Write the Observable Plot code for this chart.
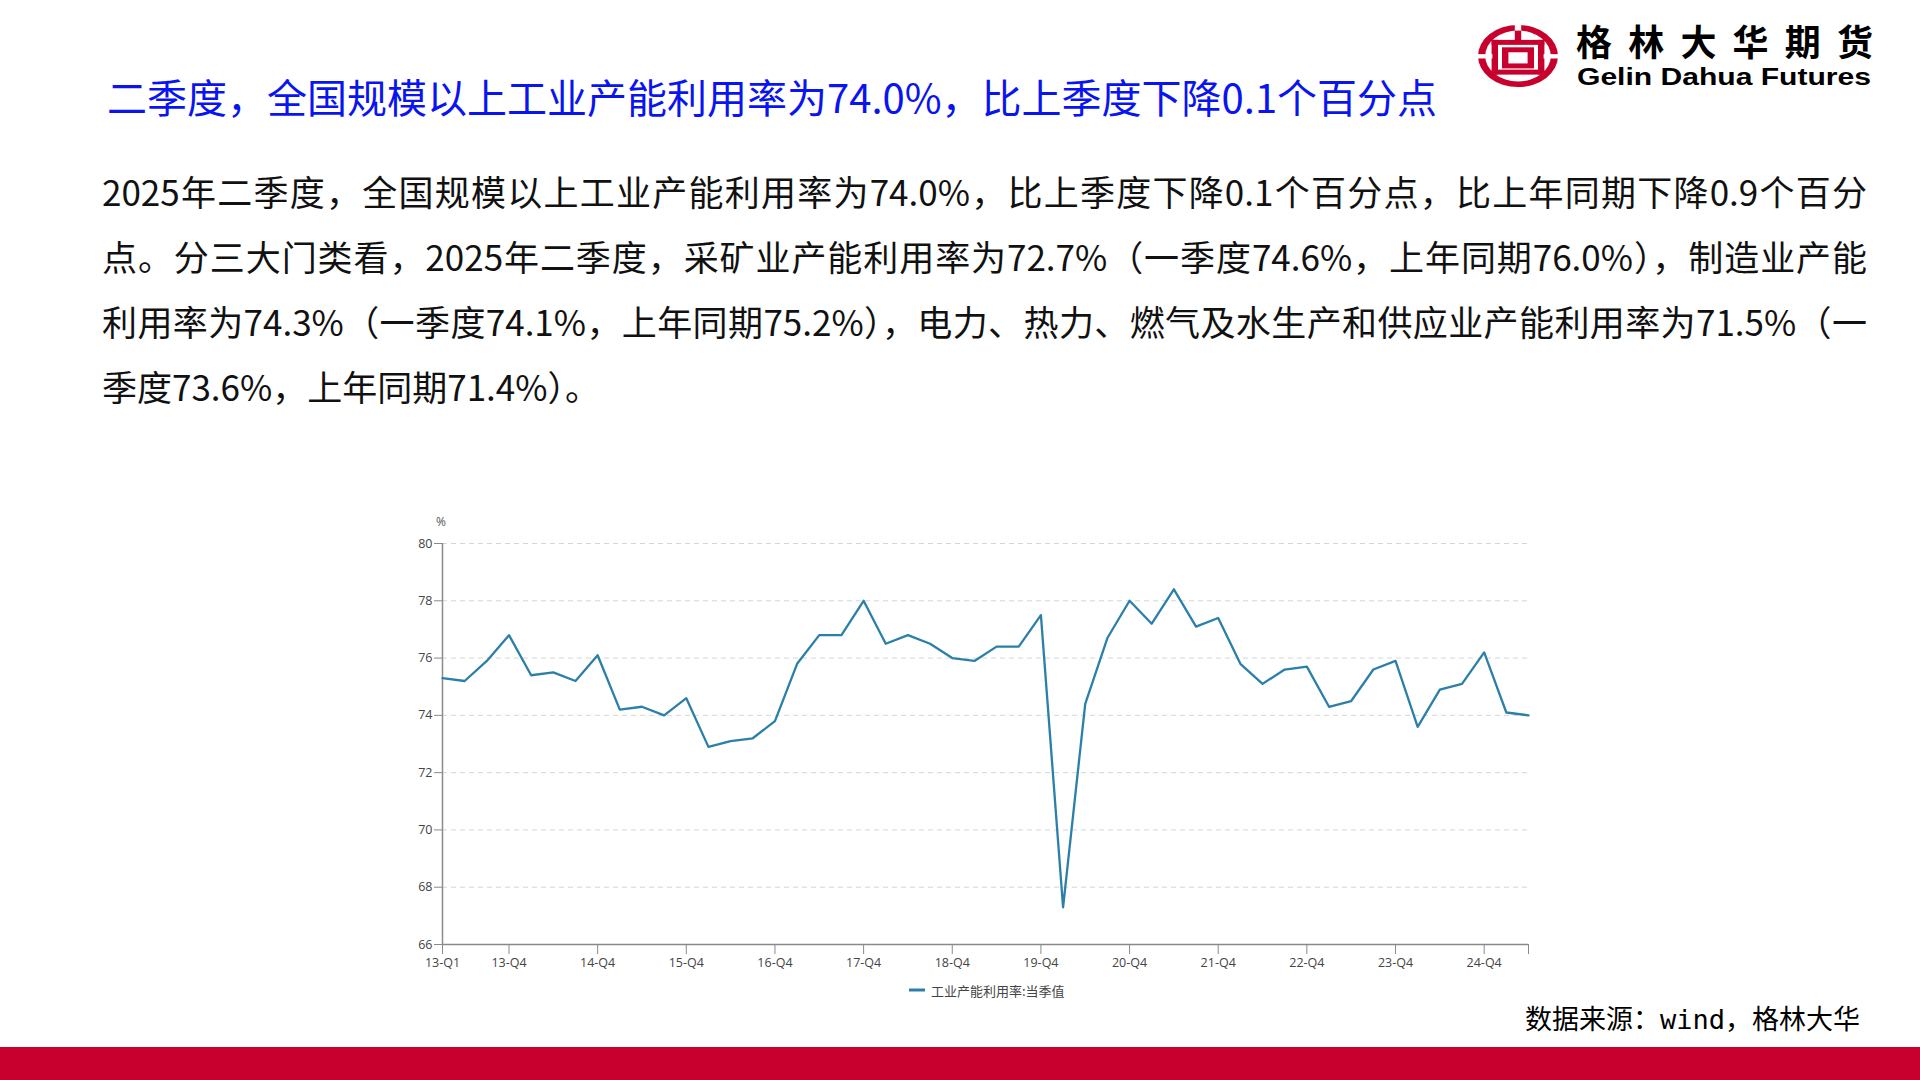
<!DOCTYPE html>
<html>
<head>
<meta charset="utf-8">
<script src="https://cdn.jsdelivr.net/npm/d3@7"></script>
<script src="https://cdn.jsdelivr.net/npm/@observablehq/plot@0.6"></script>
<style>
  html, body { margin: 0; padding: 0; background: #fff; }
  #page { position: relative; width: 1920px; height: 1080px; overflow: hidden; background: #fff; }
  .abs { position: absolute; }
  #title { left: 107px; top: 71px; height: 50px; line-height: 50px; font-size: 40px; color: #0a14f0;
           font-family: "Noto Sans CJK SC", sans-serif; white-space: nowrap; }
  #para { left: 102px; top: 158px; width: 1765px; font-size: 35px; line-height: 65px; color: #111;
          font-family: "Noto Sans CJK SC", sans-serif; }
  #para .j { text-align: justify; text-align-last: justify; }
  #para .l { text-align: left; }
  #source { left: 1525px; top: 1000px; height: 40px; line-height: 40px; font-size: 27px; color: #000;
            font-family: "DejaVu Sans Mono", "Noto Sans CJK SC", monospace; white-space: nowrap; }
  #bar { left: 0; top: 1047px; width: 1920px; height: 33px; background: #c8002d; }
  #chart { left: 380px; top: 505px; }
  #unit { left: 436px; top: 513px; font-size: 12px; color: #555; font-family: "Open Sans", sans-serif; }
  #legend { left: 904px; top: 980px; height: 20px; display: flex; align-items: center;
            font-size: 13px; color: #444; font-family: "Noto Sans CJK SC", sans-serif; white-space: nowrap; }
</style>
</head>
<body>
<div id="page">
  <svg class="abs" style="left:1478px; top:15px;" width="420" height="90" viewBox="0 0 420 90">
    <g transform="translate(40,41) scale(0.8,0.62)">
      <circle r="50" fill="#c8002d"/>
      <circle r="41" fill="#fff"/>
      <rect x="-4" y="-50" width="8" height="24" fill="#fff"/>
      <rect x="-33" y="-26" width="66" height="8" fill="#c8002d"/>
      <rect x="-4" y="-41" width="8" height="16" fill="#c8002d"/>
      <rect x="-33" y="-26" width="8" height="56" fill="#c8002d"/>
      <rect x="25" y="-26" width="8" height="56" fill="#c8002d"/>
      <rect x="-33" y="22" width="66" height="8" fill="#c8002d"/>
      <rect x="-16" y="-10" width="32" height="26" fill="none" stroke="#c8002d" stroke-width="8"/>
      <rect x="-52" y="-3" width="20" height="7" fill="#fff"/>
      <rect x="32" y="-3" width="20" height="7" fill="#fff"/>
    </g>
    <text x="98" y="41" font-family="Noto Sans CJK SC" font-weight="bold" font-size="36" textLength="297" lengthAdjust="spacing" fill="#000">格林大华期货</text>
    <text x="99" y="70" font-family="Liberation Sans, Arial, sans-serif" font-weight="bold" font-size="23.5" textLength="294" lengthAdjust="spacingAndGlyphs" fill="#000">Gelin Dahua Futures</text>
  </svg>
  <div id="title" class="abs">二季度，全国规模以上工业产能利用率为74.0%，比上季度下降0.1个百分点</div>
  <div id="para" class="abs">
    <div class="j">2025年二季度，全国规模以上工业产能利用率为74.0%，比上季度下降0.1个百分点，比上年同期下降0.9个百分</div>
    <div class="j">点。分三大门类看，2025年二季度，采矿业产能利用率为72.7%（一季度74.6%，上年同期76.0%），制造业产能</div>
    <div class="j">利用率为74.3%（一季度74.1%，上年同期75.2%），电力、热力、燃气及水生产和供应业产能利用率为71.5%（一</div>
    <div class="l">季度73.6%，上年同期71.4%）。</div>
  </div>
  <div id="unit" class="abs">%</div>
  <div id="chart" class="abs"></div>
  <div id="legend" class="abs">
    <svg width="22" height="20"><line x1="5" x2="21" y1="10" y2="10" stroke="#2b7fa8" stroke-width="3"/></svg>
    <span style="margin-left:5px">工业产能利用率:当季值</span>
  </div>
  <div id="source" class="abs">数据来源：wind，格林大华</div>
  <div id="bar" class="abs"></div>
</div>
<script>
const quarters = [
  "13-Q1","13-Q2","13-Q3","13-Q4",
  "14-Q1","14-Q2","14-Q3","14-Q4",
  "15-Q1","15-Q2","15-Q3","15-Q4",
  "16-Q1","16-Q2","16-Q3","16-Q4",
  "17-Q1","17-Q2","17-Q3","17-Q4",
  "18-Q1","18-Q2","18-Q3","18-Q4",
  "19-Q1","19-Q2","19-Q3","19-Q4",
  "20-Q1","20-Q2","20-Q3","20-Q4",
  "21-Q1","21-Q2","21-Q3","21-Q4",
  "22-Q1","22-Q2","22-Q3","22-Q4",
  "23-Q1","23-Q2","23-Q3","23-Q4",
  "24-Q1","24-Q2","24-Q3","24-Q4",
  "25-Q1","25-Q2"
];
const values = [
  75.3, 75.2, 75.9, 76.8,
  75.4, 75.5, 75.2, 76.1,
  74.2, 74.3, 74.0, 74.6,
  72.9, 73.1, 73.2, 73.8,
  75.8, 76.8, 76.8, 78.0,
  76.5, 76.8, 76.5, 76.0,
  75.9, 76.4, 76.4, 77.5,
  67.3, 74.4, 76.7, 78.0,
  77.2, 78.4, 77.1, 77.4,
  75.8, 75.1, 75.6, 75.7,
  74.3, 74.5, 75.6, 75.9,
  73.6, 74.9, 75.1, 76.2,
  74.1, 74.0
];
const xTickLabels = ["13-Q1","13-Q4","14-Q4","15-Q4","16-Q4","17-Q4","18-Q4","19-Q4","20-Q4","21-Q4","22-Q4","23-Q4","24-Q4"];
const xEndTick = ["25-Q2"];
const yTicks = [66, 68, 70, 72, 74, 76, 78, 80];

const data = quarters.map((q, i) => ({q, v: values[i]}));
const axisColor = "#8a8a8a";
const lineColor = "#2b7fa8";

const chart = Plot.plot({
  width: 1180,
  height: 470,
  marginLeft: 62,
  marginRight: 32,
  marginTop: 38,
  marginBottom: 31,
  style: {fontFamily: "'Open Sans', 'Noto Sans CJK SC', sans-serif", fontSize: "12.5px", color: "#444", background: "transparent", overflow: "visible"},
  x: {type: "point", domain: quarters, padding: 0, round: false, axis: null},
  y: {domain: [66, 80], axis: null},
  marks: [
    Plot.gridY(yTicks.slice(1), {stroke: "#d6d6d6", strokeOpacity: 1, strokeDasharray: "5,4"}),
    Plot.axisY(yTicks, {anchor: "left", tickSize: 8, tickPadding: 2, stroke: axisColor, fill: "#444", label: null}),
    Plot.axisX(xTickLabels.concat(xEndTick), {anchor: "bottom", tickSize: 10, tickPadding: 4, stroke: axisColor, fill: "#444", label: null,
      tickFormat: d => xEndTick.includes(d) ? "" : d}),
    Plot.ruleY([66], {stroke: axisColor, strokeWidth: 1.5}),
    Plot.ruleX([quarters[0]], {y1: 66, y2: 80, stroke: axisColor, strokeWidth: 1.5}),
    Plot.line(data, {x: "q", y: "v", stroke: lineColor, strokeWidth: 2.3, curve: "linear"})
  ]
});
document.getElementById("chart").appendChild(chart);
</script>
</body>
</html>
